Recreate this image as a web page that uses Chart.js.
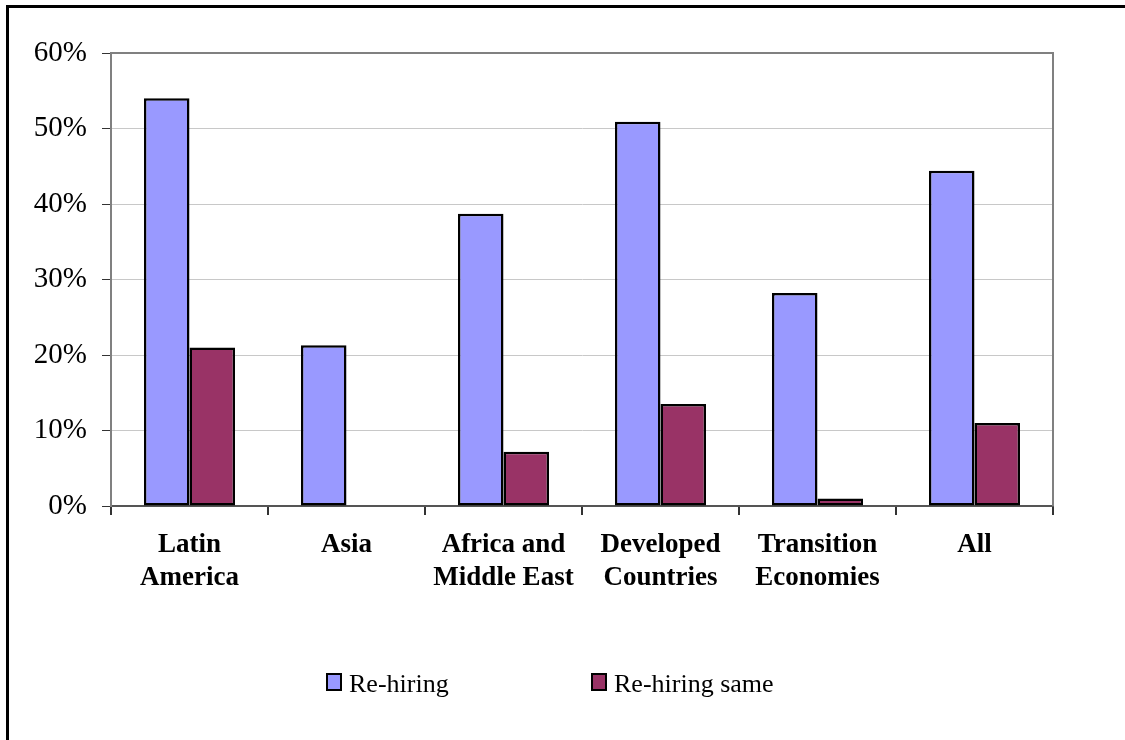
<!DOCTYPE html>
<html>
<head>
<meta charset="utf-8">
<script src="https://cdn.jsdelivr.net/npm/chart.js@4.4.1/dist/chart.umd.min.js"></script>
<style>
  html, body { margin: 0; padding: 0; background: #fff; }
  #wrap { position: relative; width: 1125px; height: 740px; overflow: hidden; }
  #frame { position: absolute; left: 6px; top: 5px; right: -10px; bottom: -10px;
           border-top: 3px solid #000; border-left: 3px solid #000; pointer-events: none; }
  .leg { position: absolute; top: 669px; height: 30px; line-height: 30px;
         font: 26px "Liberation Serif", "Times New Roman", serif; color: #000; white-space: nowrap; }
  .leg i { position: absolute; left: 0; top: 4px; width: 12px; height: 14px; border: 2.5px solid #000; }
  .leg span { position: absolute; left: 23px; top: 0; }
</style>
</head>
<body>
<div id="wrap">
  <canvas id="chart" width="1125" height="740"></canvas>
  <div id="frame"></div>
  <div id="legend"></div>
</div>
<script>
/* ── Data ─────────────────────────────────────── */
const categories = [
  ['Latin', 'America'],
  'Asia',
  ['Africa and', 'Middle East'],
  ['Developed', 'Countries'],
  ['Transition', 'Economies'],
  'All'
];
const seriesNames = ['Re-hiring', 'Re-hiring same'];
const rehiring     = [54.0, 21.3, 38.7, 50.9, 28.2, 44.4];
const rehiringSame = [21.0, 0, 7.2, 13.5, 1.0, 11.0];
const yTicks = [0, 10, 20, 30, 40, 50, 60];

const colors = ['#9999ff', '#993366'];

/* grey frame on top/right of the plot area */
const plotFrame = {
  id: 'plotFrame',
  afterDraw(chart) {
    const { ctx, chartArea: a } = chart;
    ctx.save();
    ctx.strokeStyle = '#808080';
    ctx.lineWidth = 2;
    ctx.beginPath();
    ctx.moveTo(a.left, a.top);
    ctx.lineTo(a.right, a.top);
    ctx.lineTo(a.right, a.bottom);
    ctx.stroke();
    ctx.restore();
  }
};

const chart = new Chart(document.getElementById('chart'), {
  type: 'bar',
  data: {
    labels: categories,
    datasets: [rehiring, rehiringSame].map((d, i) => ({
      label: seriesNames[i],
      data: d,
      backgroundColor: colors[i],
      borderColor: '#000',
      borderWidth: 2.5,
      borderSkipped: false,
      categoryPercentage: 0.58,
      barPercentage: 1
    }))
  },
  options: {
    responsive: false,
    animation: false,
    layout: { padding: { left: 10, right: 72, top: 53, bottom: 0 } },
    plugins: {
      legend: { display: false },
      tooltip: { enabled: false }
    },
    scales: {
      x: {
        afterFit: s => { s.height = 234; },
        grid: { offset: true, drawOnChartArea: false, tickLength: 9, tickColor: '#333', lineWidth: 2 },
        border: { color: '#555', width: 2 },
        ticks: {
          color: '#000', padding: 14, maxRotation: 0, autoSkip: false,
          font: { family: '"Liberation Serif", "Times New Roman", serif', size: 27, weight: 'bold' }
        }
      },
      y: {
        min: yTicks[0],
        max: yTicks[yTicks.length - 1],
        afterFit: s => { s.width = 101; },
        afterBuildTicks: s => { s.ticks = yTicks.map(v => ({ value: v })); },
        grid: { color: '#c8c8c8', lineWidth: 1, tickLength: 9, tickColor: '#333' },
        border: { color: '#808080', width: 2 },
        ticks: {
          color: '#000', padding: 15,
          font: { family: '"Liberation Serif", "Times New Roman", serif', size: 29 },
          callback: v => v + '%'
        }
      }
    }
  },
  plugins: [plotFrame]
});

/* ── Legend ───────────────────────────────────── */
const legendLeft = [326, 591];
document.getElementById('legend').innerHTML = chart.data.datasets.map((ds, i) => `
  <div class="leg" style="left:${legendLeft[i]}px">
    <i style="background:${ds.backgroundColor}"></i><span>${ds.label}</span>
  </div>`).join('');
</script>
</body>
</html>
